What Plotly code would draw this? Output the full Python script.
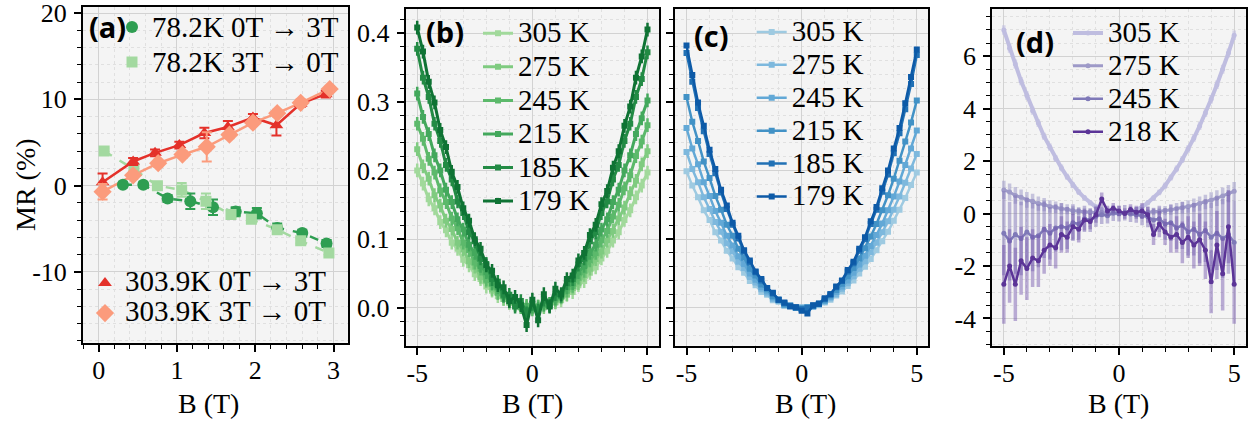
import plotly.graph_objects as go

# ---------------- data ----------------
# panel (a)
a_g1_B = [0.31, 0.57, 0.88, 1.17, 1.46, 1.75, 2.02, 2.28, 2.60, 2.91]
a_g1_MR = [0.1, 0.1, -1.5, -1.8, -2.5, -3.0, -3.2, -4.9, -5.5, -6.7]
a_g1_err = [0.3, 0.3, 0.4, 0.9, 0.9, 0.5, 0.6, 0.5, 0.4, 0.4]
a_g2_B = [0.07, 0.45, 0.75, 1.06, 1.37, 1.69, 1.95, 2.28, 2.58, 2.94]
a_g2_MR = [4.0, 1.9, 0.0, -0.5, -1.8, -3.35, -3.9, -5.1, -6.4, -7.8]
a_g2_err = [0.3, 0.3, 0.3, 0.8, 0.9, 0.5, 0.4, 0.4, 0.3, 0.3]
a_r1_B = [0.05, 0.44, 0.72, 1.03, 1.35, 1.65, 1.97, 2.27, 2.58, 2.90]
a_r1_MR = [0.4, 2.8, 3.8, 4.7, 6.1, 6.8, 7.9, 7.0, 9.5, 10.6]
a_r1_err = [1.0, 0.4, 0.4, 0.4, 0.6, 0.7, 0.4, 1.2, 0.4, 0.4]
a_r2_B = [0.05, 0.44, 0.76, 1.07, 1.38, 1.67, 1.97, 2.28, 2.58, 2.95]
a_r2_MR = [-0.7, 1.2, 2.6, 3.6, 4.5, 5.9, 7.3, 8.4, 9.6, 11.2]
a_r2_err = [0.9, 0.4, 0.4, 0.4, 1.7, 0.4, 0.4, 0.4, 0.4, 0.3]
a_names = ["78.2K 0T \u2192 3T", "78.2K 3T \u2192 0T", "303.9K 0T \u2192 3T", "303.9K 3T \u2192 0T"]

# field sweep for panels (b)-(d)
B_sweep = [-5.0, -4.75, -4.5, -4.25, -4.0, -3.75, -3.5, -3.25, -3.0, -2.75, -2.5,
           -2.25, -2.0, -1.75, -1.5, -1.25, -1.0, -0.75, -0.5, -0.25, 0.0,
           0.25, 0.5, 0.75, 1.0, 1.25, 1.5, 1.75, 2.0, 2.25, 2.5,
           2.75, 3.0, 3.25, 3.5, 3.75, 4.0, 4.25, 4.5, 4.75, 5.0]

# panel (b)
b_labels = ["305 K", "275 K", "245 K", "215 K", "185 K", "179 K"]
b_305 = [0.200, 0.181, 0.158, 0.145, 0.125, 0.113, 0.095, 0.086, 0.070, 0.062, 0.049, 0.042, 0.031, 0.025, 0.017, 0.013, 0.007, 0.005, 0.001, 0.002, 0.000,
         0.001, 0.003, 0.004, 0.009, 0.011, 0.019, 0.023, 0.033, 0.039, 0.051, 0.059, 0.072, 0.083, 0.098, 0.110, 0.128, 0.142, 0.161, 0.178, 0.197]
b_275 = [0.231, 0.206, 0.188, 0.164, 0.149, 0.127, 0.115, 0.095, 0.085, 0.068, 0.060, 0.045, 0.039, 0.027, 0.022, 0.013, 0.010, 0.004, 0.003, 0.000, 0.001,
         0.002, 0.001, 0.006, 0.008, 0.015, 0.020, 0.029, 0.036, 0.048, 0.057, 0.071, 0.082, 0.098, 0.112, 0.130, 0.146, 0.167, 0.185, 0.209, 0.228]
b_245 = [0.268, 0.246, 0.217, 0.197, 0.171, 0.154, 0.130, 0.116, 0.095, 0.084, 0.066, 0.057, 0.041, 0.035, 0.022, 0.018, 0.009, 0.008, 0.001, 0.003, -0.002,
         0.002, 0.004, 0.005, 0.012, 0.016, 0.025, 0.032, 0.044, 0.054, 0.069, 0.080, 0.098, 0.112, 0.133, 0.150, 0.174, 0.193, 0.221, 0.242, 0.266]
b_215 = [0.312, 0.278, 0.253, 0.222, 0.200, 0.172, 0.154, 0.129, 0.114, 0.092, 0.080, 0.061, 0.052, 0.036, 0.030, 0.017, 0.014, 0.005, 0.005, -0.003, 0.002,
         -0.001, 0.005, 0.006, 0.014, 0.017, 0.030, 0.036, 0.052, 0.061, 0.080, 0.092, 0.114, 0.129, 0.154, 0.172, 0.200, 0.222, 0.253, 0.276, 0.302]
b_185 = [0.377, 0.335, 0.307, 0.268, 0.243, 0.208, 0.187, 0.155, 0.138, 0.110, 0.097, 0.072, 0.064, 0.042, 0.038, 0.019, 0.019, 0.002, 0.010, -0.008, 0.006,
         -0.004, 0.012, 0.003, 0.020, 0.018, 0.036, 0.042, 0.063, 0.072, 0.097, 0.110, 0.138, 0.155, 0.187, 0.208, 0.243, 0.268, 0.307, 0.333, 0.372]
b_179 = [0.408, 0.373, 0.329, 0.299, 0.259, 0.234, 0.198, 0.176, 0.145, 0.127, 0.100, 0.086, 0.062, 0.054, 0.033, 0.030, 0.010, 0.016, 0.004, -0.025, 0.012,
         -0.018, 0.020, 0.002, 0.028, 0.020, 0.042, 0.047, 0.069, 0.080, 0.106, 0.121, 0.151, 0.170, 0.204, 0.228, 0.265, 0.293, 0.335, 0.366, 0.405]
b_err = 0.01

# panel (c)
c_labels = ["305 K", "275 K", "245 K", "215 K", "185 K", "179 K"]
c_305 = [0.199, 0.178, 0.161, 0.142, 0.128, 0.110, 0.098, 0.083, 0.072, 0.059, 0.051, 0.039, 0.033, 0.023, 0.019, 0.011, 0.009, 0.003, 0.003, 0.000, 0.000,
         0.000, 0.002, 0.004, 0.008, 0.012, 0.018, 0.024, 0.032, 0.040, 0.050, 0.060, 0.071, 0.084, 0.097, 0.111, 0.127, 0.143, 0.160, 0.179, 0.197]
c_275 = [0.227, 0.202, 0.183, 0.161, 0.144, 0.125, 0.111, 0.094, 0.082, 0.067, 0.058, 0.045, 0.037, 0.027, 0.021, 0.013, 0.010, 0.004, 0.003, 0.000, 0.001,
         0.001, 0.002, 0.005, 0.009, 0.014, 0.020, 0.028, 0.036, 0.046, 0.057, 0.068, 0.081, 0.095, 0.110, 0.126, 0.143, 0.162, 0.182, 0.203, 0.224]
c_245 = [0.262, 0.232, 0.209, 0.183, 0.163, 0.141, 0.124, 0.105, 0.091, 0.075, 0.064, 0.050, 0.041, 0.030, 0.024, 0.015, 0.011, 0.005, 0.003, 0.000, 0.000,
         0.001, 0.002, 0.006, 0.010, 0.016, 0.023, 0.031, 0.040, 0.051, 0.063, 0.076, 0.090, 0.106, 0.123, 0.142, 0.162, 0.184, 0.208, 0.232, 0.258]
c_215 = [0.307, 0.271, 0.243, 0.213, 0.189, 0.163, 0.143, 0.121, 0.105, 0.086, 0.073, 0.057, 0.047, 0.034, 0.027, 0.017, 0.012, 0.005, 0.003, 0.000, -0.001,
         0.001, 0.003, 0.006, 0.011, 0.018, 0.026, 0.035, 0.046, 0.058, 0.072, 0.087, 0.104, 0.122, 0.142, 0.164, 0.188, 0.214, 0.242, 0.270, 0.302]
c_185 = [0.371, 0.329, 0.291, 0.257, 0.224, 0.196, 0.168, 0.144, 0.121, 0.101, 0.082, 0.066, 0.052, 0.040, 0.029, 0.021, 0.012, 0.007, 0.003, 0.001, -0.002,
         0.000, 0.003, 0.006, 0.013, 0.020, 0.030, 0.039, 0.053, 0.065, 0.083, 0.100, 0.122, 0.143, 0.169, 0.194, 0.225, 0.254, 0.289, 0.326, 0.368]
c_179 = [0.382, 0.339, 0.299, 0.265, 0.230, 0.202, 0.172, 0.149, 0.124, 0.105, 0.084, 0.069, 0.053, 0.042, 0.029, 0.022, 0.012, 0.008, 0.002, 0.001, -0.004,
         -0.008, 0.004, 0.006, 0.014, 0.020, 0.031, 0.040, 0.055, 0.067, 0.086, 0.103, 0.126, 0.147, 0.174, 0.200, 0.232, 0.262, 0.298, 0.336, 0.376]

# panel (d)
d_labels = ["305 K", "275 K", "245 K", "218 K"]
d_305 = [7.00, 6.30, 5.70, 5.05, 4.50, 3.92, 3.45, 2.94, 2.53, 2.10, 1.74, 1.40, 1.08, 0.82, 0.60, 0.41, 0.25, 0.14, 0.06, 0.02, 0.00,
         0.02, 0.06, 0.14, 0.25, 0.41, 0.59, 0.81, 1.06, 1.37, 1.70, 2.06, 2.46, 2.88, 3.34, 3.83, 4.36, 4.91, 5.50, 6.12, 6.80]
d_305_err = [0.18, 0.17, 0.17, 0.16, 0.16, 0.15, 0.15, 0.14, 0.14, 0.13, 0.13, 0.12, 0.12, 0.11, 0.11, 0.10, 0.10, 0.10, 0.09, 0.09, 0.09,
             0.09, 0.09, 0.10, 0.10, 0.10, 0.11, 0.11, 0.12, 0.12, 0.13, 0.13, 0.14, 0.14, 0.15, 0.15, 0.16, 0.16, 0.17, 0.17, 0.18]
d_275 = [0.90, 0.82, 0.69, 0.62, 0.52, 0.47, 0.38, 0.34, 0.27, 0.24, 0.18, 0.16, 0.11, 0.10, 0.06, 0.06, 0.03, 0.04, 0.01, 0.03, 0.02,
         0.02, 0.03, 0.03, 0.05, 0.04, 0.08, 0.08, 0.12, 0.14, 0.19, 0.22, 0.27, 0.32, 0.38, 0.44, 0.51, 0.59, 0.67, 0.76, 0.85]
d_275_err = [0.35, 0.33, 0.32, 0.30, 0.30, 0.28, 0.27, 0.25, 0.24, 0.22, 0.21, 0.19, 0.17, 0.15, 0.14, 0.12, 0.11, 0.10, 0.10, 0.09, 0.09,
             0.09, 0.10, 0.10, 0.11, 0.12, 0.14, 0.15, 0.17, 0.19, 0.21, 0.22, 0.24, 0.25, 0.27, 0.28, 0.30, 0.30, 0.32, 0.33, 0.35]
d_245 = [-0.75, -1.05, -0.80, -0.95, -0.70, -0.90, -0.85, -0.60, -0.75, -0.55, -0.50, -0.55, -0.35, -0.40, -0.20, -0.25, -0.10, -0.05, -0.08, 0.02, 0.00,
         0.03, -0.02, -0.05, -0.10, -0.12, -0.25, -0.20, -0.40, -0.35, -0.55, -0.45, -0.70, -0.60, -0.80, -0.65, -0.90, -0.75, -0.95, -0.80, -1.10]
d_245_err = [1.6, 1.5, 1.5, 1.4, 1.3, 1.3, 1.2, 1.1, 1.0, 0.9, 0.9, 0.8, 0.7, 0.6, 0.5, 0.45, 0.4, 0.35, 0.3, 0.3, 0.3,
             0.3, 0.3, 0.3, 0.35, 0.4, 0.45, 0.5, 0.6, 0.7, 0.8, 0.9, 0.9, 1.0, 1.1, 1.2, 1.3, 1.4, 1.5, 1.5, 1.6]
d_218 = [-2.70, -2.00, -2.70, -1.80, -2.10, -1.70, -1.80, -1.40, -1.20, -1.30, -0.80, -0.90, -0.50, -0.60, -0.25, -0.30, -0.05, 0.55, 0.10, 0.20, 0.10,
         0.00, 0.15, 0.05, 0.10, -0.05, -0.80, -0.40, -0.70, -0.90, -0.80, -1.10, -0.90, -1.20, -1.00, -1.40, -2.60, -1.20, -2.30, -0.50, -2.70]
d_218_err = [1.5, 1.4, 1.4, 1.3, 1.2, 1.1, 1.0, 0.9, 0.8, 0.8, 0.7, 0.6, 0.5, 0.5, 0.4, 0.3, 0.3, 0.25, 0.2, 0.2, 0.2,
             0.2, 0.2, 0.25, 0.3, 0.3, 0.4, 0.5, 0.5, 0.6, 0.7, 0.8, 0.8, 0.9, 1.0, 1.1, 1.2, 1.3, 1.4, 1.4, 1.5]

for arr in [b_305, b_275, b_245, b_215, b_185, b_179, c_305, c_275, c_245, c_215, c_185, c_179,
            d_305, d_305_err, d_275, d_275_err, d_245, d_245_err, d_218, d_218_err]:
    assert len(arr) == len(B_sweep), len(arr)

# tick labels
a_xticks = [0, 1, 2, 3]
a_yticks = [20, 10, 0, -10]
a_yticklabels = ["20", "10", "0", "-10"]
bcd_xticks = [-5, 0, 5]
bcd_xticklabels = ["-5", "0", "5"]
b_yticks = [0.0, 0.1, 0.2, 0.3, 0.4]
b_yticklabels = ["0.0", "0.1", "0.2", "0.3", "0.4"]
d_yticks = [6, 4, 2, 0, -2, -4]
d_yticklabels = ["6", "4", "2", "0", "-2", "-4"]

# ---------------- styles ----------------
W, H = 1253, 427
SERIF = "Liberation Serif"
greens = ["#a1d99b", "#7fcb80", "#5cb96b", "#43a85c", "#238b45", "#0f7334"]
blues = ["#9ecae1", "#7db8dd", "#62a8d6", "#4292c6", "#2171b5", "#0d5aa7"]
purples = ["#bfbde0", "#9e9ac8", "#7f79b8", "#5b3497"]
purple_err = ["rgba(191,189,224,0.6)", "rgba(158,154,200,0.55)", "rgba(128,115,184,0.5)", "rgba(110,80,170,0.45)"]


def px_x(p):
    return p / W


def px_y(p):
    return 1 - p / H


def leg_name(s, size=29):
    return '<span style="font-size:%dpx">%s</span>' % (size, s)


fig = go.Figure()

# ---- panel (a)
a_sets = [
    (a_g1_B, a_g1_MR, a_g1_err, "#2f9e52", "circle", 12, "dash", "legend"),
    (a_g2_B, a_g2_MR, a_g2_err, "#a3d9a0", "square", 11, "dash", "legend"),
    (a_r1_B, a_r1_MR, a_r1_err, "#e4312a", "triangle-up", 12, "solid", "legend2"),
    (a_r2_B, a_r2_MR, a_r2_err, "#fb9b7c", "diamond", 14, "solid", "legend2"),
]
for (xs, ys, es, col, sym, sz, dash, lg), nm in zip(a_sets, a_names):
    fig.add_trace(go.Scatter(x=xs, y=ys, mode="lines", line=dict(color=col, width=2.5, dash=dash),
                             showlegend=False, xaxis="x", yaxis="y", hoverinfo="skip"))
for (xs, ys, es, col, sym, sz, dash, lg), nm in zip(a_sets, a_names):
    fig.add_trace(go.Scatter(x=xs, y=ys, mode="markers", name=leg_name(nm),
                             marker=dict(color=col, symbol=sym, size=sz),
                             error_y=dict(type="data", array=es, color=col, thickness=2, width=5),
                             legend=lg, xaxis="x", yaxis="y"))

# ---- panel (b)
for ys, nm, col in zip([b_305, b_275, b_245, b_215, b_185, b_179], b_labels, greens):
    fig.add_trace(go.Scatter(x=B_sweep, y=ys, mode="lines+markers", name=leg_name(nm),
                             line=dict(color=col, width=3),
                             marker=dict(color=col, symbol="square", size=6),
                             error_y=dict(type="constant", value=b_err, color=col, thickness=2.5, width=0),
                             legend="legend3", xaxis="x2", yaxis="y2"))

# ---- panel (c)
for ys, nm, col in zip([c_305, c_275, c_245, c_215, c_185, c_179], c_labels, blues):
    fig.add_trace(go.Scatter(x=B_sweep, y=ys, mode="lines+markers", name=leg_name(nm),
                             line=dict(color=col, width=2.5),
                             marker=dict(color=col, symbol="square", size=6),
                             legend="legend4", xaxis="x3", yaxis="y3"))

# ---- panel (d)
d_series = [(d_305, d_305_err, 4), (d_275, d_275_err, 3), (d_245, d_245_err, 2.5), (d_218, d_218_err, 2.5)]
for (ys, es, lw), nm, col, ecol in zip(d_series, d_labels, purples, purple_err):
    fig.add_trace(go.Scatter(x=B_sweep, y=ys, mode="lines+markers", name=leg_name(nm),
                             line=dict(color=col, width=lw),
                             marker=dict(color=col, symbol="circle", size=5),
                             error_y=dict(type="data", array=es, color=ecol, thickness=3.5, width=0),
                             legend="legend5", xaxis="x4", yaxis="y4"))


def axis(domain, rng, tickvals, ticktext, minor_dtick, anchor, show_labels=True, standoff=0):
    return dict(domain=domain, range=rng, anchor=anchor, tickmode="array", tickvals=tickvals,
                ticktext=ticktext, showticklabels=show_labels, automargin=False,
                ticklabeloverflow="allow", ticklabelstandoff=standoff,
                showline=True, linecolor="black", linewidth=2, mirror=True,
                ticks="outside", ticklen=7, tickwidth=1.5, tickcolor="black",
                showgrid=True, gridcolor="#d2d2d2", gridwidth=1, zeroline=False,
                tickfont=dict(family=SERIF, size=26, color="black"),
                minor=dict(dtick=minor_dtick, tick0=0, ticks="outside", ticklen=4, tickwidth=1.2,
                           tickcolor="black", showgrid=True, gridcolor="#e0e0e0", griddash="dot", gridwidth=1))


ydom_a = [px_y(342.7), px_y(7)]
ydom = [px_y(345.7), px_y(9)]
XS = -4
YS = 2

layout = dict(
    width=W, height=H, autosize=False,
    margin=dict(l=0, r=0, t=0, b=0, pad=0),
    paper_bgcolor="white", plot_bgcolor="#f4f4f4",
    xaxis=axis([px_x(83), px_x(347.7)], [-0.2, 3.18], a_xticks, [str(v) for v in a_xticks], 0.2, "y", standoff=XS),
    yaxis=axis(ydom_a, [-18.2, 20.7], a_yticks, a_yticklabels, 2, "x", standoff=YS),
    xaxis2=axis([px_x(405.7), px_x(659)], [-5.5, 5.5], bcd_xticks, bcd_xticklabels, 1, "y2", standoff=XS),
    yaxis2=axis(ydom, [-0.055, 0.435], b_yticks, b_yticklabels, 0.02, "x2", standoff=YS),
    xaxis3=axis([px_x(675), px_x(928.3)], [-5.5, 5.5], bcd_xticks, bcd_xticklabels, 1, "y3", standoff=XS),
    yaxis3=axis(ydom, [-0.055, 0.435], b_yticks, b_yticklabels, 0.02, "x3", show_labels=False),
    xaxis4=axis([px_x(992.3), px_x(1245.7)], [-5.5, 5.5], bcd_xticks, bcd_xticklabels, 1, "y4", standoff=XS),
    yaxis4=axis(ydom, [-5.04, 7.8], d_yticks, d_yticklabels, 0.5, "x4", standoff=YS),
    showlegend=True,
)


def legend(left, top, size):
    return dict(x=px_x(left), y=px_y(top), xanchor="left", yanchor="top",
                bgcolor="rgba(0,0,0,0)", borderwidth=0,
                font=dict(family=SERIF, size=size, color="black"), itemclick=False)


layout["legend"] = legend(112, 4.5, 24.6)
layout["legend2"] = legend(85, 263, 20.8)
layout["legend3"] = legend(478, 11.5, 23.5)
layout["legend4"] = legend(751.7, 10.5, 23)
layout["legend5"] = legend(1068, 11.5, 23)

annots = []
for txt, left, cy in [("(a)", 87, 27), ("(b)", 424, 32), ("(c)", 692, 36), ("(d)", 1014, 41)]:
    annots.append(dict(text="<b>%s</b>" % txt, x=px_x(left), y=px_y(cy), xref="paper", yref="paper",
                       xanchor="left", yanchor="middle", showarrow=False,
                       font=dict(family="Open Sans", size=29, color="black")))
annots.append(dict(text="MR (%)", x=px_x(25), y=px_y(185), xref="paper", yref="paper", textangle=-90,
                   xanchor="center", yanchor="middle", showarrow=False,
                   font=dict(family=SERIF, size=28, color="black")))
for cx in [208, 532, 805, 1118]:
    annots.append(dict(text="B (T)", x=px_x(cx), y=px_y(403), xref="paper", yref="paper",
                       xanchor="center", yanchor="middle", showarrow=False,
                       font=dict(family=SERIF, size=28, color="black")))
layout["annotations"] = annots

fig.update_layout(**layout)
fig.write_html("out.html", config={"displayModeBar": False},
               post_script="document.body.style.margin='0';document.body.style.overflow='hidden';")
